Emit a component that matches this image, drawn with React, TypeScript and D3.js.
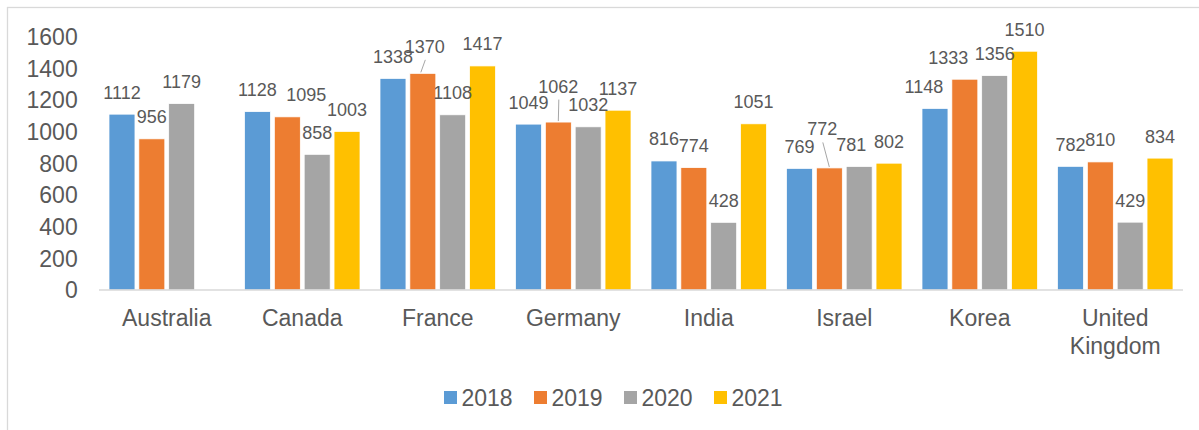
import React from "react";
import * as d3 from "d3";

const categories = ["Australia", "Canada", "France", "Germany", "India", "Israel", "Korea", "United Kingdom"];
const years = ["2018", "2019", "2020", "2021"];
const values2018 = [1112, 1128, 1338, 1049, 816, 769, 1148, 782];
const values2019 = [956, 1095, 1370, 1062, 774, 772, 1333, 810];
const values2020 = [1179, 858, 1108, 1032, 428, 781, 1356, 429];
const values2021: (number | null)[] = [null, 1003, 1417, 1137, 1051, 802, 1510, 834];
const yTicks = [0, 200, 400, 600, 800, 1000, 1200, 1400, 1600];

const seriesValues = [values2018, values2019, values2020, values2021];
const colors = ["#5B9BD5", "#ED7D31", "#A5A5A5", "#FFC000"];

// label nudges (Excel's collision-avoided label positions): [category, series, dx, dy, leader]
const labelNudges: [number, number, number, number, boolean][] = [
  [1, 1, 19, 0, false],
  [2, 1, 2, -5, true],
  [3, 1, 0, -14, true],
  [5, 1, -7, -17, true],
  [5, 2, -8, 0, false],
  [6, 0, -11, 0, false],
  [6, 1, -16.5, 0, false],
];

const W = 1199;
const H = 430;
const FONT = "'Liberation Sans', Arial, sans-serif";
const TXT = "#595959";

export default function App() {
  const x0 = d3.scaleBand<string>().domain(categories).range([99, 1183]).padding(0);
  const x1 = d3.scaleBand<string>().domain(years).range([10, x0.bandwidth() - 10]).paddingInner(0.13).paddingOuter(0);
  const y = d3.scaleLinear().domain([0, 1600]).range([290, 37]);

  const bars: React.ReactNode[] = [];
  const labels: React.ReactNode[] = [];
  categories.forEach((c, ci) => {
    years.forEach((yr, si) => {
      const v = seriesValues[si][ci];
      if (v == null) return;
      const bx = (x0(c) as number) + (x1(yr) as number);
      const bw = x1.bandwidth();
      const top = y(v);
      bars.push(
        <rect key={`b-${ci}-${si}`} x={bx} y={top} width={bw} height={y(0) - top}
          fill={colors[si]} stroke="#fff" strokeWidth={0.75} />
      );
      const nudge = labelNudges.find((n) => n[0] === ci && n[1] === si);
      const dx = nudge ? nudge[2] : 0;
      const dy = nudge ? nudge[3] : 0;
      const cx = bx + bw / 2;
      const lx = cx + dx;
      const ly = top - 15.5 + dy;
      if (nudge && nudge[4]) {
        labels.push(
          <line key={`l-${ci}-${si}`} x1={lx + 0.5} y1={ly + 7} x2={cx + (dx > 0 ? -2 : dx < 0 ? 0 : 0)} y2={top - 1}
            stroke="#A6A6A6" strokeWidth={1} />
        );
      }
      labels.push(
        <text key={`t-${ci}-${si}`} x={lx} y={ly} textAnchor="middle" fontSize={18} fill={TXT} fontFamily={FONT}>
          {v}
        </text>
      );
    });
  });

  return (
    <svg width={W} height={H} style={{ position: "absolute", left: 0, top: 0, background: "#fff" }}>
      <rect x={7.5} y={7.5} width={1400} height={600} fill="#fff" stroke="#D9D9D9" strokeWidth={1.3} />
      {yTicks.map((t) => (
        <text key={`yt-${t}`} x={77.7} y={y(t) + 8.2} textAnchor="end" fontSize={23} fill={TXT} fontFamily={FONT}>
          {t}
        </text>
      ))}
      {bars}
      <line x1={99} x2={1183} y1={290} y2={290} stroke="#D9D9D9" strokeWidth={1.5} />
      {labels}
      {categories.map((c) => {
        const cx = (x0(c) as number) + x0.bandwidth() / 2;
        const parts = c === "United Kingdom" ? ["United", "Kingdom"] : [c];
        return (
          <text key={`c-${c}`} x={cx} y={326} textAnchor="middle" fontSize={23} fill={TXT} fontFamily={FONT}>
            {parts.map((p, i) => (
              <tspan key={p} x={cx} dy={i === 0 ? 0 : 28}>{p}</tspan>
            ))}
          </text>
        );
      })}
      {years.map((yr, i) => (
        <g key={`lg-${yr}`} transform={`translate(${444 + i * 90},0)`}>
          <rect x={0} y={391} width={13} height={13} fill={colors[i]} />
          <text x={17.5} y={405.7} fontSize={23} fill={TXT} fontFamily={FONT}>{yr}</text>
        </g>
      ))}
    </svg>
  );
}
